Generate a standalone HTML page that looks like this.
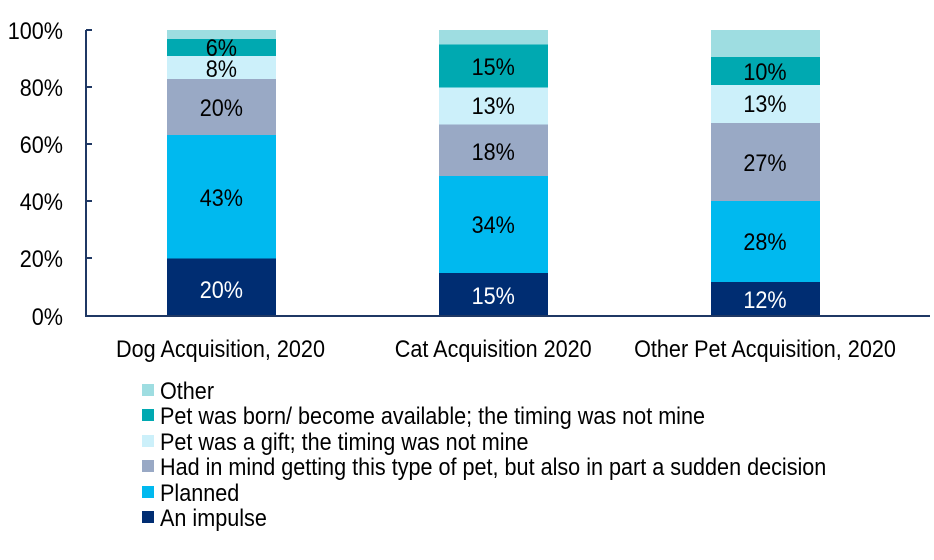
<!DOCTYPE html>
<html><head><meta charset="utf-8"><style>
html,body{margin:0;padding:0;background:#fff}
svg{display:block}
text{font-family:"Liberation Sans",Arial,sans-serif;font-size:24px;fill:#000}
</style></head><body>
<svg width="934" height="560" viewBox="0 0 934 560">
<rect x="167" y="258.5" width="109" height="57.5" fill="#002d72"/>
<rect x="167" y="135" width="109" height="123.5" fill="#00b9ef"/>
<rect x="167" y="79" width="109" height="56" fill="#99a9c5"/>
<rect x="167" y="56" width="109" height="23" fill="#ccf0fa"/>
<rect x="167" y="39" width="109" height="17" fill="#00a9b1"/>
<rect x="167" y="30" width="109" height="9" fill="#9edde1"/>
<rect x="439" y="273" width="109" height="43" fill="#002d72"/>
<rect x="439" y="176" width="109" height="97" fill="#00b9ef"/>
<rect x="439" y="124.5" width="109" height="51.5" fill="#99a9c5"/>
<rect x="439" y="87.5" width="109" height="37" fill="#ccf0fa"/>
<rect x="439" y="44.5" width="109" height="43" fill="#00a9b1"/>
<rect x="439" y="30" width="109" height="14.5" fill="#9edde1"/>
<rect x="711" y="282" width="109" height="34" fill="#002d72"/>
<rect x="711" y="201" width="109" height="81" fill="#00b9ef"/>
<rect x="711" y="123" width="109" height="78" fill="#99a9c5"/>
<rect x="711" y="85" width="109" height="38" fill="#ccf0fa"/>
<rect x="711" y="57" width="109" height="28" fill="#00a9b1"/>
<rect x="711" y="30" width="109" height="27" fill="#9edde1"/>
<g stroke="#1f3864" stroke-width="2">
<line x1="86" y1="30" x2="86" y2="316"/>
<line x1="85" y1="316" x2="930" y2="316"/>
<line x1="86" y1="30" x2="92" y2="30"/>
<line x1="86" y1="87" x2="92" y2="87"/>
<line x1="86" y1="144" x2="92" y2="144"/>
<line x1="86" y1="201" x2="92" y2="201"/>
<line x1="86" y1="258" x2="92" y2="258"/>
</g>
<g text-anchor="end" transform="scale(0.9,1)">
<text x="70" y="39">100%</text>
<text x="70" y="96">80%</text>
<text x="70" y="153">60%</text>
<text x="70" y="210">40%</text>
<text x="70" y="267">20%</text>
<text x="70" y="325">0%</text>
</g>
<g text-anchor="middle" transform="scale(0.9,1)">
<text x="245" y="357">Dog Acquisition, 2020</text>
<text x="548" y="357">Cat Acquisition 2020</text>
<text x="850" y="357">Other Pet Acquisition, 2020</text>
<text x="246" y="298" style="fill:#fff">20%</text>
<text x="246" y="206">43%</text>
<text x="246" y="116">20%</text>
<text x="246" y="77">8%</text>
<text x="246" y="56">6%</text>
<text x="548" y="304" style="fill:#fff">15%</text>
<text x="548" y="233">34%</text>
<text x="548" y="160">18%</text>
<text x="548" y="114">13%</text>
<text x="548" y="75">15%</text>
<text x="850" y="308" style="fill:#fff">12%</text>
<text x="850" y="250">28%</text>
<text x="850" y="171">27%</text>
<text x="850" y="112">13%</text>
<text x="850" y="80">10%</text>
</g>
<rect x="142" y="384" width="12" height="12" fill="#9edde1"/>
<rect x="142" y="409" width="12" height="12" fill="#00a9b1"/>
<rect x="142" y="435" width="12" height="12" fill="#ccf0fa"/>
<rect x="142" y="460" width="12" height="12" fill="#99a9c5"/>
<rect x="142" y="486" width="12" height="12" fill="#00b9ef"/>
<rect x="142" y="511" width="12" height="12" fill="#002d72"/>
<g transform="translate(160,0) scale(0.9,1)">
<text x="0" y="399">Other</text>
<text x="0" y="424">Pet was born/ become available; the timing was not mine</text>
<text x="0" y="450">Pet was a gift; the timing was not mine</text>
<text x="0" y="475">Had in mind getting this type of pet, but also in part a sudden decision</text>
<text x="0" y="501">Planned</text>
<text x="0" y="526">An impulse</text>
</g>
</svg>
</body></html>
